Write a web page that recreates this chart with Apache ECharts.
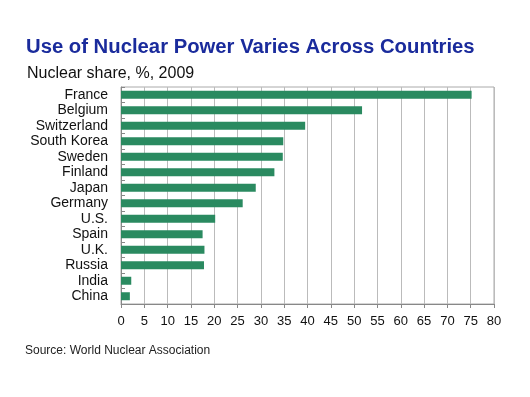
<!DOCTYPE html>
<html><head><meta charset="utf-8">
<script src="https://cdn.jsdelivr.net/npm/echarts@6/dist/echarts.min.js"></script>
<style>html,body{margin:0;padding:0;background:#fff}#c{width:530px;height:397px}</style>
</head><body><div id="c"></div>
<script>
const categories = ["France","Belgium","Switzerland","South Korea","Sweden","Finland","Japan","Germany","U.S.","Spain","U.K.","Russia","India","China"];
const shares = [75.2,51.7,39.5,34.8,34.7,32.9,28.9,26.1,20.2,17.5,17.9,17.8,2.2,1.9];
const xTicks = [0,5,10,15,20,25,30,35,40,45,50,55,60,65,70,75,80];

const chart = echarts.init(document.getElementById('c'));
chart.setOption({
  animation:false,
  backgroundColor:'#fff',
  title:[
    {text:'Use of Nuclear Power Varies Across Countries',left:21,top:32,
     textStyle:{fontFamily:'Liberation Sans',fontSize:20.3,fontWeight:'bold',color:'#1a2b9c'}},
    {text:'Nuclear share, %, 2009',left:22,top:61,
     textStyle:{fontFamily:'Liberation Sans',fontSize:16,fontWeight:'normal',color:'#111'}},
    {text:'Source: World Nuclear Association',left:20,top:340,
     textStyle:{fontFamily:'Liberation Sans',fontSize:12,fontWeight:'normal',color:'#222'}}
  ],
  grid:{left:121,top:87,width:373,height:217,show:true,borderColor:'#aaa',borderWidth:1},
  xAxis:{type:'value',min:xTicks[0],max:xTicks[xTicks.length-1],interval:5,
    axisLine:{show:true,lineStyle:{color:'#888'}},
    axisTick:{show:true,length:4,lineStyle:{color:'#888'}},
    axisLabel:{fontFamily:'Liberation Sans',fontSize:13,color:'#111',margin:11},
    splitLine:{show:true,lineStyle:{color:'#bbb'}}},
  yAxis:{type:'category',data:categories,inverse:true,
    axisLine:{show:true,lineStyle:{color:'#888'}},
    axisTick:{show:true,inside:true,length:4,lineStyle:{color:'#888'}},
    axisLabel:{interval:0,fontFamily:'Liberation Sans',fontSize:14,color:'#111',margin:13}},
  series:[{type:'bar',data:shares,barWidth:8,itemStyle:{color:'#2a8a60'}}]
});
</script></body></html>
